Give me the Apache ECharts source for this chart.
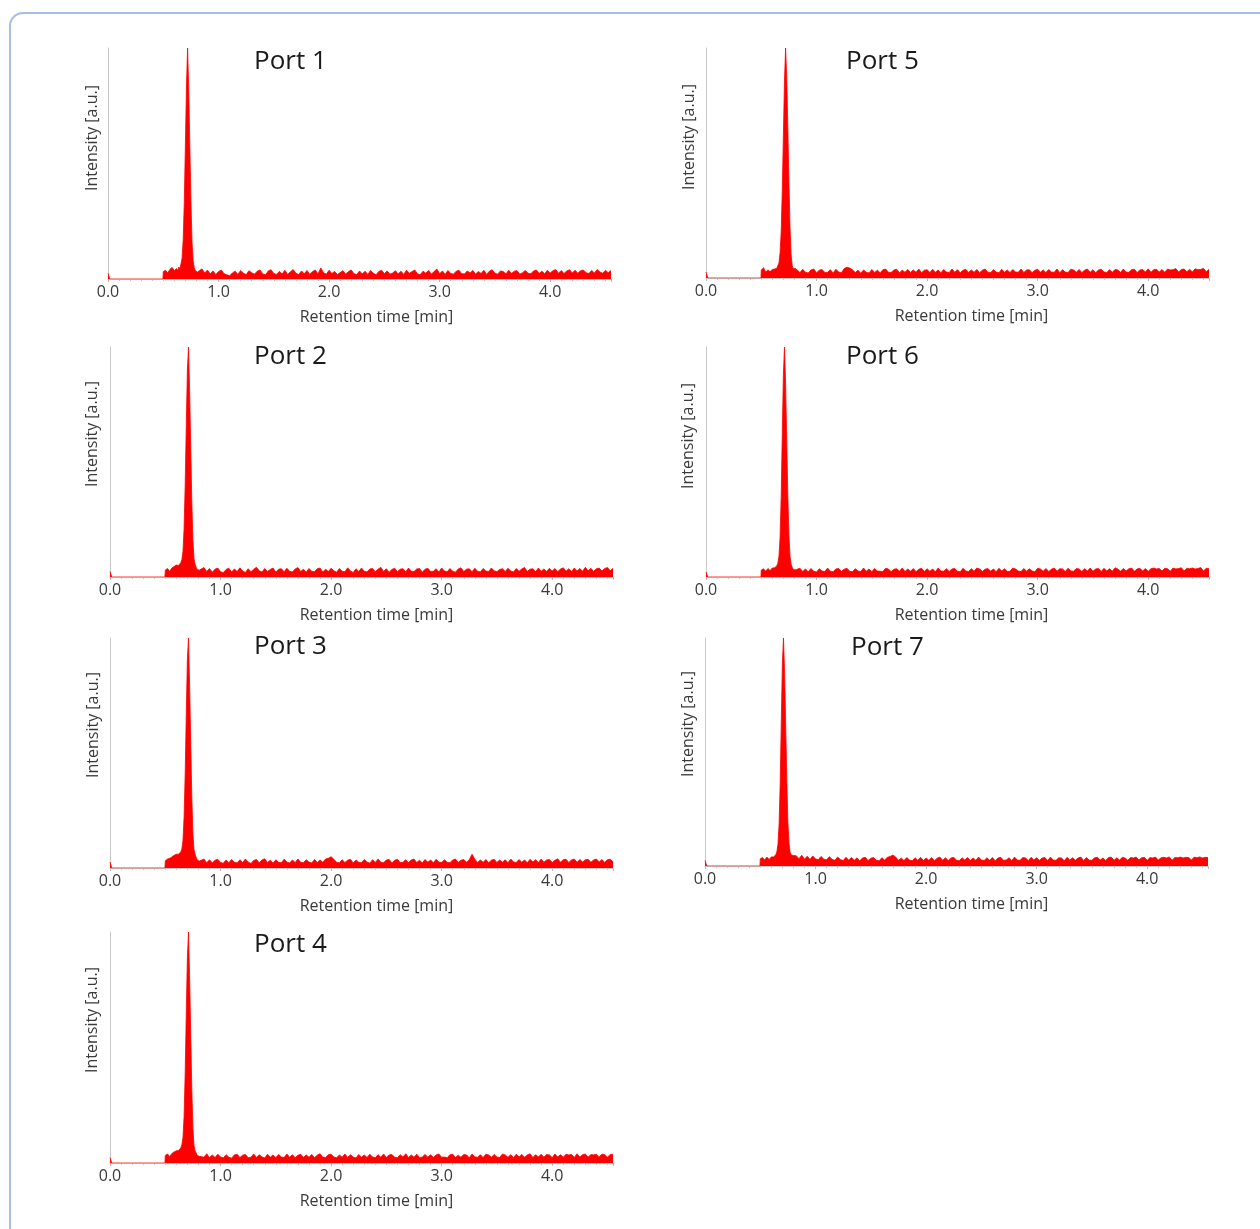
<!DOCTYPE html>
<html>
<head>
<meta charset="utf-8">
<script src="https://cdn.jsdelivr.net/npm/echarts@6/dist/echarts.min.js"></script>
<style>
  html, body { margin: 0; padding: 0; background: #fff; }
  #wrap { position: relative; width: 1260px; height: 1229px; overflow: hidden; }
  #frame { position: absolute; left: 9px; top: 12px; width: 1300px; height: 1300px;
           border: 2px solid #a7bee8; border-radius: 14px; box-sizing: border-box; }
  #chart { position: absolute; left: 0; top: 0; width: 1260px; height: 1229px; }
</style>
</head>
<body>
<div id="wrap"><div id="frame"></div><div id="chart"></div></div>
<script>
// ---------------- data ----------------
const portNames = ['Port 1', 'Port 2', 'Port 3', 'Port 4', 'Port 5', 'Port 6', 'Port 7'];
const xTickLabels = ['0.0', '1.0', '2.0', '3.0', '4.0'];

// start blip and empty segment (times in min)
const leadTimes = [0, 0.01, 0.016, 0.497];
const p1Lead = [2.5, 2.0, 0, 0];
const p2Lead = [2.4, 2.0, 0, 0];
const p3Lead = [2.6, 2.1, 0, 0];
const p4Lead = [2.3, 1.9, 0, 0];
const p5Lead = [2.6, 2.2, 0, 0];
const p6Lead = [2.2, 1.9, 0, 0];
const p7Lead = [2.4, 2.0, 0, 0];

// pre-peak noise: 0.50 .. 0.60 min, step 0.02
const p1Pre = [3.2, 3.8, 2.6, 4.2, 5.0, 3.6];
const p2Pre = [3.0, 3.7, 2.5, 3.9, 4.6, 5.2];
const p3Pre = [3.1, 3.9, 4.2, 4.8, 5.5, 6.0];
const p4Pre = [3.3, 3.9, 2.8, 4.1, 4.8, 5.3];
const p5Pre = [3.4, 4.5, 2.6, 3.5, 2.8, 3.7];
const p6Pre = [3.0, 3.6, 2.5, 3.7, 2.8, 3.9];
const p7Pre = [3.2, 3.7, 2.6, 3.9, 2.9, 4.0];

// peak region: 0.62 .. 0.81 min, step 0.01
const p1Peak = [4.5,3.6,5.2,4.3,6.5,9,17,33,58,84,100,83,58,34,16,8,5,3.6,4.2,3.0];
const p2Peak = [5.0,5.6,6.2,7.5,11,21,40,66,90,100,82,57,33,16,8,5.5,4.2,3.2,4.0,3.0];
const p3Peak = [6.0,6.4,7.0,8.2,12,22,41,67,91,100,80,55,31,15,8,6,4.6,3.4,3.9,3.0];
const p4Peak = [5.4,5.8,6.5,7.8,11,20,39,65,89,100,81,56,32,15,7.5,5.2,4.3,3.2,4.0,2.9];
const p5Peak = [3.9,3.2,4.2,4.6,6.5,11,20,38,62,86,100,88,66,42,22,10,5.5,4.0,3.3,4.1];
const p6Peak = [4.0,3.4,4.8,6,9,17,35,62,88,100,84,60,36,18,9,5.5,4.2,3.2,3.9,3.1];
const p7Peak = [4.0,4.4,4.9,6.2,9.5,18,36,63,89,100,85,62,38,19,10,6,4.8,4.0,4.6,3.8];

// post-peak baseline: from 0.825 min, step 0.025
const p1Post = [3.6,4.4,2.6,3.9,2.2,3.5,1.9,3.2,3.9,2.3,1.8,1.4,2.6,3.4,2.0,3.7,2.5,1.9,3.6,2.7,2.1,3.4,3.9,2.2,1.8,3.5,4.0,2.4,2.0,3.3,2.2,3.8,2.0,3.1,4.1,2.5,1.9,3.5,2.3,3.7,2.0,3.2,3.9,2.2,4.8,2.7,2.1,3.8,2.4,3.3,1.9,2.8,3.6,2.1,3.2,3.9,2.3,1.9,3.5,2.2,3.4,2.0,3.7,2.5,1.8,3.3,3.8,2.3,3.5,2.1,2.6,3.6,2.2,3.4,2.0,3.8,2.4,3.2,3.9,2.2,1.9,3.4,2.5,3.7,2.1,3.3,4.3,2.3,3.5,2.0,3.7,2.4,2.1,3.4,3.8,2.3,2.2,3.5,2.6,3.7,2.1,3.3,2.4,3.8,2.0,3.4,4.0,2.5,2.1,3.5,3.2,2.2,3.8,2.4,3.4,3.6,2.1,2.7,3.7,2.5,2.3,3.5,3.9,2.4,3.4,2.3,3.8,2.6,3.6,4.1,2.5,3.7,2.4,3.5,4.0,2.6,3.8,2.5,3.6,3.9,2.7,2.4,3.7,2.6,4.1,3.0,2.5,3.8,2.7,3.7];
const p2Post = [3.5,4.1,2.4,3.7,2.1,3.4,3.9,2.3,1.9,3.3,3.8,2.2,3.5,2.4,4.0,2.6,2.0,3.6,2.3,3.4,4.2,2.7,2.2,3.7,2.4,3.3,3.9,2.1,3.4,3.6,2.3,3.8,2.5,2.2,3.5,4.1,2.4,3.4,2.1,3.7,2.5,2.3,3.6,3.9,2.2,3.4,2.4,3.8,2.7,2.1,3.7,2.5,2.3,4.0,2.6,2.0,3.6,2.4,3.9,2.5,2.2,3.5,3.7,2.3,3.4,4.2,2.4,3.6,2.1,3.3,3.8,2.3,3.4,3.6,2.2,3.9,2.5,2.4,3.5,3.7,2.1,3.4,3.8,2.4,2.5,3.6,2.2,3.9,2.6,2.3,3.7,2.5,2.1,3.5,4.0,2.4,3.4,3.6,2.3,3.8,2.5,2.2,3.7,2.6,2.4,3.9,2.7,2.3,3.3,3.6,2.4,3.8,2.6,2.2,3.7,2.5,3.5,4.1,2.4,3.4,3.6,2.3,3.9,2.5,3.5,2.4,3.8,2.6,3.7,2.3,3.5,4.0,2.5,3.6,2.4,3.9,2.6,3.7,2.5,4.2,2.7,3.8,2.4,3.6,3.9,2.6,3.7,4.1,2.7,3.8];
const p3Post = [3.3,3.9,2.3,3.6,2.2,3.4,3.8,2.4,2.1,3.5,2.3,3.7,2.5,2.2,3.6,2.4,3.9,2.6,2.0,3.3,3.7,2.3,3.5,4.0,2.4,3.4,2.1,3.6,2.5,2.3,3.8,2.6,2.2,3.5,2.4,3.9,2.5,2.3,3.6,2.6,2.2,3.7,2.4,3.5,2.5,3.9,4.2,4.9,3.8,2.5,2.3,3.6,2.4,3.4,3.8,2.2,3.5,2.5,2.3,3.7,2.6,2.1,3.6,2.4,3.9,2.5,2.3,3.5,3.7,2.2,3.4,3.8,2.4,2.5,3.6,2.3,3.5,3.9,2.4,3.4,2.2,3.7,2.5,3.5,2.3,3.8,2.6,2.4,3.6,2.5,2.3,3.5,3.9,2.4,3.4,3.7,2.5,3.6,6.0,3.8,2.4,3.5,2.5,3.7,2.3,3.4,3.8,2.4,3.5,2.5,3.6,2.3,3.9,2.6,2.4,3.7,2.5,3.5,2.3,3.8,2.6,3.6,2.4,3.9,2.5,3.5,3.7,2.4,3.4,4.0,2.5,3.6,3.8,2.4,3.5,3.9,2.5,3.7,2.6,3.6,3.8,2.5,3.5,3.9,2.6,3.7,2.4,3.6,3.8,2.7];
const p4Post = [3.7,2.5,4.0,2.3,3.5,2.4,3.8,2.6,2.2,3.6,2.5,2.1,3.5,3.8,2.4,3.4,3.7,2.3,2.5,3.9,2.4,3.6,2.6,2.2,3.8,2.5,3.5,2.3,3.7,2.6,2.4,3.9,2.5,3.6,2.3,3.4,3.8,2.4,3.5,2.5,3.7,2.3,3.4,4.0,2.5,2.4,3.6,3.8,2.6,2.3,3.5,2.5,3.9,2.4,3.6,2.6,2.2,3.7,2.5,3.5,2.4,3.8,2.6,2.3,3.6,2.5,3.9,2.4,3.5,3.7,2.5,2.3,3.6,2.6,4.0,2.4,3.5,2.5,3.8,2.3,2.6,3.7,2.5,3.6,2.4,3.5,3.9,2.5,2.6,2.3,3.6,3.8,2.4,3.4,2.5,3.7,3.5,2.3,3.9,2.6,2.5,3.6,2.4,3.8,3.5,2.5,3.7,2.6,2.4,3.9,3.5,2.5,3.6,2.3,3.8,2.6,3.7,2.5,3.5,4.0,2.4,3.6,2.6,3.8,2.5,3.7,3.5,2.4,3.9,2.6,3.6,2.5,3.8,3.5,3.7,2.4,4.0,2.6,3.6,3.9,2.5,3.7,3.5,3.8,2.6,3.9,3.6,2.5,3.7,3.8];
const p5Post = [3.6,2.4,3.8,2.5,2.2,3.5,3.9,2.3,3.4,3.7,2.4,2.5,3.6,2.2,3.8,2.6,2.3,4.1,4.7,4.3,3.6,2.4,3.4,2.1,3.5,2.5,2.2,3.7,2.4,3.4,2.3,3.6,3.9,2.5,2.4,3.5,3.8,2.3,3.4,2.5,3.7,2.4,3.5,2.5,3.9,2.3,3.4,3.6,2.4,3.8,2.5,3.5,2.3,3.7,2.6,2.4,3.9,2.5,3.6,2.3,3.4,3.8,2.4,3.5,2.5,3.7,2.3,3.4,3.9,2.5,2.4,3.6,2.6,2.3,3.8,2.5,3.5,2.4,3.7,2.6,2.5,3.9,2.4,3.5,3.6,2.3,3.4,3.8,2.5,3.5,2.4,3.7,2.6,2.5,3.9,2.3,3.6,2.6,2.4,3.8,3.5,2.5,3.7,2.4,3.4,3.9,2.5,3.6,2.3,3.5,3.8,2.6,2.4,3.6,2.5,3.7,3.5,2.4,3.9,2.6,2.5,3.6,3.8,2.4,3.5,3.7,2.6,4.0,2.5,3.6,3.8,2.6,3.7,2.5,3.9,3.5,3.6,4.1,2.6,3.7,3.9,2.7,3.8,2.6,4.0,3.6,3.7,4.2,2.7,3.8];
const p6Post = [3.4,3.8,2.4,3.5,2.3,3.7,2.5,2.2,3.6,2.6,2.4,3.9,2.5,2.3,3.5,3.7,2.4,3.4,3.8,2.5,2.3,3.6,2.6,2.4,3.9,2.5,3.5,2.3,3.7,2.6,2.5,2.4,3.8,3.5,2.3,3.4,3.6,2.5,3.9,2.4,3.5,2.5,3.7,2.3,3.4,3.8,2.4,3.6,2.5,3.5,2.3,3.9,2.6,2.5,3.6,2.4,3.5,3.7,2.5,2.3,3.8,2.6,2.4,3.6,2.5,3.9,3.5,2.4,3.4,3.7,2.5,3.5,2.3,3.8,2.6,3.6,2.4,2.5,3.9,3.5,2.6,2.4,3.7,2.5,3.6,2.6,2.3,3.8,3.5,2.5,3.7,2.4,3.4,3.9,2.5,3.6,3.5,2.4,3.8,2.6,2.5,3.7,3.5,2.4,3.6,2.6,3.9,2.5,3.5,3.7,2.4,3.8,2.6,3.6,2.5,4.0,3.5,2.5,3.7,2.6,3.6,3.9,2.5,3.5,3.8,2.6,3.7,2.5,3.6,3.9,3.5,3.7,2.6,3.8,3.6,2.5,3.9,3.5,3.7,4.0,2.6,3.8,3.6,3.9,3.5,3.7,4.1,2.6,3.8,3.6];
const p7Post = [4.5,3.2,4.7,3.0,4.3,2.9,4.4,3.1,2.8,4.2,3.0,2.7,4.1,2.9,2.5,3.9,2.8,2.4,3.8,2.6,3.7,2.5,3.6,2.3,3.5,3.8,2.4,3.4,3.7,2.5,2.3,3.6,2.6,3.8,4.2,4.8,3.9,2.5,3.5,2.4,3.7,2.6,2.3,3.6,2.5,3.8,2.4,3.5,2.5,3.7,2.3,3.4,3.9,2.5,3.6,2.4,3.5,3.8,2.5,2.3,3.6,2.6,3.7,2.4,3.5,2.5,3.9,2.6,2.4,3.6,2.5,3.7,2.3,3.5,3.8,2.5,2.6,3.6,2.4,3.9,2.6,2.5,3.7,3.5,2.4,3.8,2.6,3.6,2.5,3.5,3.7,2.4,3.9,2.6,2.5,3.6,3.5,2.3,3.8,2.6,3.6,2.5,3.5,3.9,2.4,3.7,2.6,2.5,3.6,3.8,2.6,3.5,2.4,3.7,3.9,2.5,3.6,2.6,3.8,3.5,2.5,3.7,3.5,3.9,2.6,3.6,3.8,2.5,3.7,3.5,3.9,2.6,3.6,3.8,3.5,4.0,2.5,3.7,3.6,3.9,3.5,3.8,3.7,2.6,3.9,3.6,4.0,3.5,3.8,3.7];

const PRE_T0 = 0.50, PRE_DT = 0.02;
const PEAK_T0 = 0.62, PEAK_DT = 0.01;
const POST_T0 = 0.825, POST_DT = 0.025;
const X_MAX = 4.55;

const leads = [p1Lead, p2Lead, p3Lead, p4Lead, p5Lead, p6Lead, p7Lead];
const pres  = [p1Pre, p2Pre, p3Pre, p4Pre, p5Pre, p6Pre, p7Pre];
const peaks = [p1Peak, p2Peak, p3Peak, p4Peak, p5Peak, p6Peak, p7Peak];
const posts = [p1Post, p2Post, p3Post, p4Post, p5Post, p6Post, p7Post];

// ---------------- layout (pixels) ----------------
const gridLeft   = [108, 110, 110, 110, 706, 706, 705];
const gridTop    = [48, 347, 638, 932, 48, 347, 638];
const gridHeight = [231, 230, 230, 231, 230, 230, 228];
const gridWidth  = 503;
const xNameShift = [34, 30, 30, 30, 28, 28, 30];
const titleX = [254, 254, 254, 254, 846, 846, 851];
const titleY = [62, 357, 647, 945, 62, 357, 648];
const yNameX = [92, 92, 93, 92, 689, 688, 688];
const yNameY = [138, 434, 725, 1020, 137, 436, 724];

function buildSeries(i) {
  const d = [];
  leadTimes.forEach((t, k) => d.push([t, leads[i][k]]));
  pres[i].forEach((v, k) => d.push([+(PRE_T0 + k * PRE_DT).toFixed(4), v]));
  peaks[i].forEach((v, k) => d.push([+(PEAK_T0 + k * PEAK_DT).toFixed(4), v]));
  posts[i].forEach((v, k) => {
    const t = +(POST_T0 + k * POST_DT).toFixed(4);
    if (t <= X_MAX) d.push([t, v]);
  });
  return d;
}

const FONT = "'Open Sans', 'Noto Sans', sans-serif";
const grids = [], xAxes = [], yAxes = [], series = [], graphics = [];
portNames.forEach((name, i) => {
  grids.push({ left: gridLeft[i], top: gridTop[i], width: gridWidth, height: gridHeight[i] });
  xAxes.push({
    type: 'value', gridIndex: i, min: 0, max: X_MAX, interval: 1,
    axisLine: { show: true, lineStyle: { color: '#c8c8c8', width: 1 } },
    axisTick: { show: true, length: 3, lineStyle: { color: '#bbb' } },
    minorTick: { show: true, splitNumber: 10, length: 2, lineStyle: { color: '#c8c8c8' } },
    splitLine: { show: false },
    axisLabel: {
      showMaxLabel: false, fontSize: 16, color: '#3a3a3a', fontFamily: FONT, margin: 5,
      formatter: v => (Math.abs(v - Math.round(v)) < 1e-6 && Math.round(v) < xTickLabels.length) ? xTickLabels[Math.round(v)] : ''
    },
    name: 'Retention time [min]', nameLocation: 'middle', nameGap: 30,
    nameTextStyle: { fontSize: 16, color: '#3a3a3a', fontFamily: FONT, padding: [0, 0, 0, xNameShift[i]] }
  });
  yAxes.push({
    type: 'value', gridIndex: i, min: 0, max: 100,
    axisLine: { show: true, lineStyle: { color: '#c8c8c8', width: 1 } },
    axisTick: { show: false }, axisLabel: { show: false }, splitLine: { show: false }
  });
  series.push({
    type: 'line', xAxisIndex: i, yAxisIndex: i, data: buildSeries(i),
    symbol: 'none', silent: true, animation: false,
    lineStyle: { color: '#ff0000', width: 0.8 },
    areaStyle: { color: '#ff0000', opacity: 1 }
  });
  graphics.push({
    type: 'text', x: titleX[i], y: titleY[i],
    style: { text: name, fill: '#1a1a1a', font: "26px " + FONT,
             textAlign: 'left', textVerticalAlign: 'middle', align: 'left', verticalAlign: 'middle' }
  });
  graphics.push({
    type: 'text', x: yNameX[i], y: yNameY[i], rotation: Math.PI / 2,
    style: { text: 'Intensity [a.u.]', fill: '#3a3a3a', font: "16px " + FONT,
             textAlign: 'center', textVerticalAlign: 'middle', align: 'center', verticalAlign: 'middle' }
  });
});

const chart = echarts.init(document.getElementById('chart'), null, { renderer: 'canvas' });
chart.setOption({
  animation: false,
  backgroundColor: 'transparent',
  grid: grids, xAxis: xAxes, yAxis: yAxes, series: series,
  graphic: { elements: graphics }
});
</script>
</body>
</html>
